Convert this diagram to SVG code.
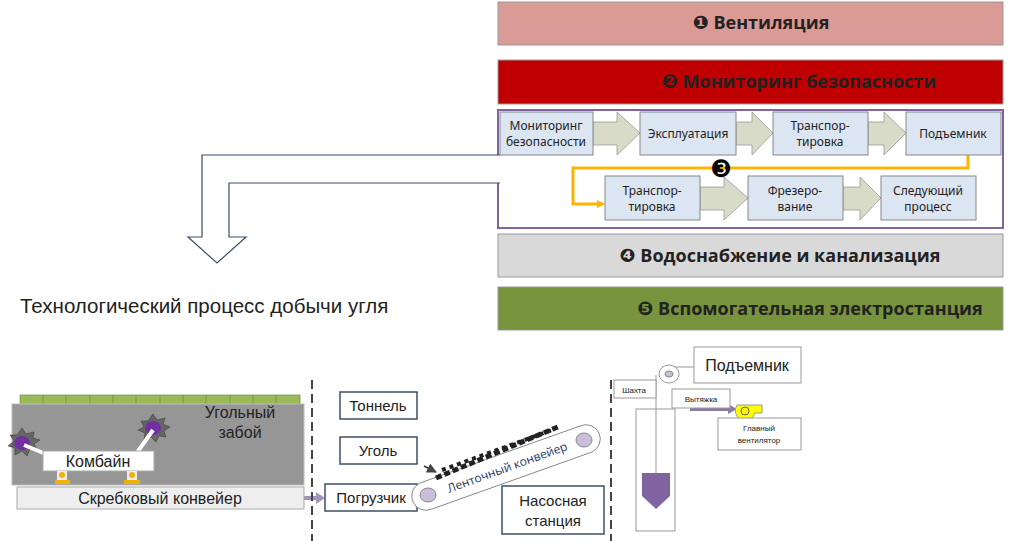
<svg xmlns="http://www.w3.org/2000/svg" width="1024" height="541" viewBox="0 0 1024 541">
<style>
text{font-family:"Liberation Sans",Arial,sans-serif;fill:#222}
.bar{stroke:#999;stroke-width:1}
.bt{font-family:"Open Sans","Noto Sans",sans-serif;font-weight:bold;font-size:18px;text-anchor:middle}
.num{font-family:"DejaVu Sans",sans-serif;font-size:19px}
.pb{fill:#dce6f2;stroke:#888;stroke-width:1}
.pt{font-family:"Noto Sans",sans-serif;font-size:12px;text-anchor:middle}
.ch{fill:#d7dbc8;stroke:#999;stroke-width:0.8}
.wb{fill:#fff;stroke:#3d4f66;stroke-width:1.5}
.wt{font-size:15px;text-anchor:middle}
.dash{stroke:#444;stroke-width:2;stroke-dasharray:9 5}
</style>
<defs>
<marker id="ya" markerWidth="8" markerHeight="8" refX="6" refY="4" orient="auto" markerUnits="userSpaceOnUse"><path d="M0,0L8,4L0,8z" fill="#fbb400"/></marker>
<marker id="da" markerWidth="10" markerHeight="10" refX="9" refY="5" orient="auto-start-reverse" markerUnits="userSpaceOnUse"><path d="M0,0L10,5L0,10z" fill="#444"/></marker>
</defs>
<g id="bar1"><rect class="bar" x="498" y="2" width="505" height="43" fill="#da9a95"/><text class="bt" x="761" y="29"><tspan class="num">❶</tspan> Вентиляция</text></g>
<g id="bar2"><rect class="bar" x="498" y="60" width="505" height="44" fill="#c00000"/><text class="bt" x="799" y="88"><tspan class="num">❷</tspan> Мониторинг безопасности</text></g>
<g id="process"><rect x="498" y="110" width="505" height="118" fill="#fff" stroke="#8064a2" stroke-width="2"/></g>
<g id="connectors">
<path class="ch" d="M593,122H617V112L640,133L617,155V145H593z"/>
<path class="ch" d="M736,122H752V112L773,133L752,155V145H736z"/>
<path class="ch" d="M868,122H884V112L906,133L884,155V145H868z"/>
<path class="ch" d="M700,187H724V177L748,198L724,220V210H700z"/>
<path class="ch" d="M843,187H860V177L881,198L860,220V210H843z"/>
<path d="M968,155V168H573V204H603" fill="none" stroke="#fbb400" stroke-width="3" marker-end="url(#ya)"/>
<path d="M500,155H202V237H188L217,263L246,237H229V183H500" fill="#fff" stroke="#3d4f66" stroke-width="1.2"/>
<line x1="170" y1="461" x2="244" y2="461" stroke="#444" stroke-width="1.5" marker-start="url(#da)" marker-end="url(#da)"/>
<path d="M304,498H318" stroke="#a395b8" stroke-width="4"/><path d="M316,492L325,498L316,504z" fill="#a395b8"/>
<path d="M424,466L436,472" stroke="#333" stroke-width="1.5" marker-end="url(#da)"/>
<path d="M690,409H730" stroke="#8a7aa8" stroke-width="4"/><path d="M728,404L737,409L728,414z" fill="#8a7aa8"/>
</g>
<g id="p1"><rect class="pb" x="500" y="112" width="93" height="43"/><text class="pt" x="546" y="130">Мониторинг</text><text class="pt" x="546" y="146">безопасности</text></g>
<g id="p2"><rect class="pb" x="640" y="112" width="96" height="43"/><text class="pt" x="688" y="138">Эксплуатация</text></g>
<g id="p3"><rect class="pb" x="773" y="112" width="95" height="43"/><text class="pt" x="820" y="130">Транспор-</text><text class="pt" x="820" y="146">тировка</text></g>
<g id="p4"><rect class="pb" x="906" y="112" width="95" height="43"/><text class="pt" x="953" y="138">Подъемник</text></g>
<g id="p5"><rect class="pb" x="605" y="176" width="95" height="44"/><text class="pt" x="652" y="195">Транспор-</text><text class="pt" x="652" y="211">тировка</text></g>
<g id="p6"><rect class="pb" x="748" y="176" width="95" height="44"/><text class="pt" x="795" y="195">Фрезеро-</text><text class="pt" x="795" y="211">вание</text></g>
<g id="p7"><rect class="pb" x="881" y="176" width="95" height="44"/><text class="pt" x="928" y="195">Следующий</text><text class="pt" x="928" y="211">процесс</text></g>
<g id="n3"><text x="721" y="177" font-size="24" text-anchor="middle" style="font-family:'DejaVu Sans',sans-serif;fill:#000">❸</text></g>
<g id="bar4"><rect class="bar" x="498" y="234" width="505" height="43" fill="#d9d9d9"/><text class="bt" x="780" y="262"><tspan class="num">❹</tspan> Водоснабжение и канализация</text></g>
<g id="bar5"><rect class="bar" x="498" y="287" width="505" height="43" fill="#77933c"/><text class="bt" x="810" y="315"><tspan class="num">❺</tspan> Вспомогательная электростанция</text></g>
<g id="title"><text x="20" y="313" font-size="20.5">Технологический процесс добычи угля</text></g>
<g id="face">
<rect x="20" y="395" width="280" height="10" fill="#9bbb59" stroke="#6f8a3a" stroke-width="0.7"/>
<path d="M43,395v10M66,395v10M90,395v10M113,395v10M136,395v10M160,395v10M183,395v10M206,395v10M230,395v10M253,395v10M276,395v10" stroke="#6f8a3a" stroke-width="0.7"/>
<rect x="12" y="404" width="292" height="81" fill="#969696" stroke="#bbb"/>
<text x="240" y="418" font-size="16" text-anchor="middle">Угольный</text><text x="240" y="438" font-size="16" text-anchor="middle">забой</text>
<polygon points="22,428 26,434 34,432 33,438 40,440 34,444 37,450 30,449 27,456 22,451 15,455 15,448 8,446 14,441 10,435 17,435" fill="#666" stroke="#333" stroke-width="0.5"/>
<ellipse cx="22" cy="443" rx="8" ry="7" fill="#7030a0"/>
<polygon points="153,414 157,420 165,418 163,424 170,427 164,431 166,437 159,436 156,442 151,437 144,440 145,433 138,430 144,427 141,421 148,421" fill="#666" stroke="#333" stroke-width="0.5"/>
<ellipse cx="153" cy="428" rx="8" ry="7" fill="#7030a0"/>
<path d="M24,445L48,455M153,430L136,454" stroke="#fff" stroke-width="4"/>
<rect x="43" y="451" width="111" height="20" fill="#fff" stroke="#aaa"/>
<text x="98" y="467" font-size="16" text-anchor="middle">Комбайн</text>
<rect x="57" y="471" width="10" height="9" fill="#eee"/><circle cx="62" cy="475" r="3" fill="#f0b400"/><rect x="55" y="480" width="15" height="4" fill="#f0b400"/>
<rect x="127" y="471" width="10" height="9" fill="#eee"/><circle cx="132" cy="475" r="3" fill="#f0b400"/><rect x="124" y="480" width="16" height="4" fill="#f0b400"/>
<rect x="17" y="487" width="287" height="22" fill="#eeeeee" stroke="#aaa"/>
<text x="160" y="504" font-size="16" text-anchor="middle">Скребковый конвейер</text>
</g>
<line class="dash" x1="312" y1="380" x2="312" y2="541"/>
<g id="tunnel"><rect class="wb" x="340" y="392" width="77" height="27"/><text class="wt" x="378" y="411">Тоннель</text></g>
<g id="coal"><rect class="wb" x="340" y="437" width="77" height="27"/><text class="wt" x="378" y="456">Уголь</text></g>
<g id="loader"><rect class="wb" x="325" y="484" width="92" height="27"/><text class="wt" x="371" y="503">Погрузчик</text></g>
<g id="belt">
<path d="M420,483L580,426A14,14 0 0 1 592,452L432,509A14,14 0 0 1 420,483z" fill="#fff" stroke="#888"/>
<ellipse cx="428" cy="495" rx="8" ry="7" fill="#c9bfdb" stroke="#888"/>
<ellipse cx="584" cy="440" rx="8" ry="7" fill="#c9bfdb" stroke="#888"/>
<path d="M436,478L560,426" stroke="#222" stroke-width="5" stroke-dasharray="6 3"/>
<path d="M442,470L552,430" stroke="#222" stroke-width="4" stroke-dasharray="4 4"/>
<text x="0" y="0" font-size="12" transform="translate(449,493) rotate(-20)" style="fill:#1f3864;font-family:'Open Sans',sans-serif">Ленточный конвейер</text>
</g>
<g id="pump"><rect class="wb" x="502" y="486" width="102" height="48"/><text class="wt" x="553" y="506">Насосная</text><text class="wt" x="553" y="526">станция</text></g>
<line class="dash" x1="611" y1="380" x2="611" y2="541"/>
<g id="shaft">
<rect x="636" y="409" width="39" height="122" fill="#fff" stroke="#999"/>
<line x1="656" y1="375" x2="656" y2="473" stroke="#999"/>
<path d="M662,367H698" stroke="#999"/>
<polygon points="642,473 670,473 670,496 656,509 642,496" fill="#8064a2"/>
<ellipse cx="669" cy="374" rx="10" ry="9" fill="#fff" stroke="#999"/><ellipse cx="669" cy="374" rx="4" ry="3" fill="#c9bfdb" stroke="#888"/>
</g>
<g id="lift"><rect x="694" y="347" width="107" height="36" fill="#fff" stroke="#999"/><text x="747" y="371" font-size="16" text-anchor="middle">Подъемник</text></g>
<g id="mine"><rect x="614" y="380" width="42" height="18" fill="#fff" stroke="#999"/><text x="634" y="393" font-size="8" text-anchor="middle">Шахта</text></g>
<g id="exhaust"><rect x="672" y="389" width="58" height="19" fill="#fff" stroke="#999"/><text x="701" y="402" font-size="8" text-anchor="middle">Вытяжка</text></g>
<g id="fan">
<path d="M737,405H762V413H755A10,10 0 1 1 737,405z" fill="#ffff00" stroke="#999"/>
<circle cx="745" cy="411" r="4" fill="none" stroke="#666"/>
<rect x="718" y="418" width="83" height="32" fill="#fff" stroke="#999"/>
<text x="759" y="431" font-size="8" text-anchor="middle">Главный</text><text x="759" y="443" font-size="8" text-anchor="middle">вентилятор</text>
</g>
</svg>
